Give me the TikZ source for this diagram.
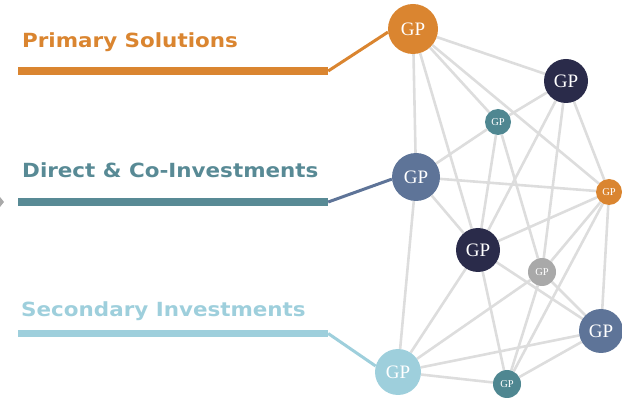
\documentclass[tikz,border=0pt]{standalone}
\usepackage{fontspec}
\setmainfont{Liberation Serif}
\newfontfamily\titlefont[FakeStretch=1.1]{DejaVu Sans}
\usetikzlibrary{backgrounds}

\definecolor{gporange}{HTML}{DA8530}
\definecolor{gpnavy}{HTML}{2A2B4A}
\definecolor{gpteal}{HTML}{4F8791}
\definecolor{gpslate}{HTML}{5E7498}
\definecolor{gplight}{HTML}{9ECFDC}
\definecolor{gpgrey}{HTML}{A9A9A9}
\definecolor{dirteal}{HTML}{588A95}
\definecolor{linkgrey}{HTML}{DDDDDD}

\begin{document}
\begin{tikzpicture}[x=1pt,y=-1pt,
  gp/.style={circle,inner sep=0pt,text=white,font=\fontsize{19}{19}\selectfont},
  gpsmall/.style={gp,font=\fontsize{10.5}{10.5}\selectfont},
  link/.style={draw=linkgrey,line width=2.6pt},
  bar/.style={inner sep=0pt,minimum width=310pt,minimum height=7.5pt},
  title/.style={font=\titlefont\bfseries\fontsize{19.5}{20}\selectfont,inner sep=0pt,anchor=base west}]

\clip (0,0) rectangle (622,398);

% the three groups
\node[title,text=gporange] (prim) at (22,47.5) {Primary Solutions};
\node[title,text=dirteal] (dir) at (22,177.3) {Direct \& Co-Investments};
\node[title,text=gplight] (sec) at (21,316.7) {Secondary Investments};

\node[bar,fill=gporange] (primbar) at (173,71) {};
\node[bar,fill=dirteal] (dirbar) at (173,202) {};
\node[bar,fill=gplight] (secbar) at (173,333.5) {};

\fill[gpgrey] (0,197) -- (4,202) -- (0,207) -- cycle;

% GP network
\foreach \n/\x/\y/\c/\d in {1/413/29/gporange/50, 2/566/81/gpnavy/44, 4/416/177/gpslate/48,
  6/478/250/gpnavy/44, 8/601/331/gpslate/44, 9/398/372/gplight/46}
{
  \node[gp,fill=\c,minimum size=\d pt] (gp\n) at (\x,\y) {GP};
}

\foreach \n/\x/\y/\c/\d in {3/498/122/gpteal/26, 5/609/192/gporange/26,
  7/542/272/gpgrey/28, 10/507/384/gpteal/28}
{
  \node[gpsmall,fill=\c,minimum size=\d pt] (gp\n) at (\x,\y) {GP};
}

\begin{scope}[on background layer]
\foreach \a/\b in {1/2,1/3,1/4,1/5,1/6, 2/3,2/5,2/6,2/7, 3/4,3/6,3/7, 4/5,4/6,4/9,
  5/6,5/7,5/8,5/10, 6/8,6/9,6/10, 7/8,7/9,7/10, 8/9,8/10, 9/10}
{
  \path (gp\a) edge[link] (gp\b);
}
\end{scope}

\draw[gporange,line width=3pt] (primbar.east) -- (gp1.187);
\draw[gpslate,line width=3pt] (dirbar.east) -- (gp4.185);
\draw[gplight,line width=3pt] (secbar.east) -- (gp9.165);

\end{tikzpicture}
\end{document}
